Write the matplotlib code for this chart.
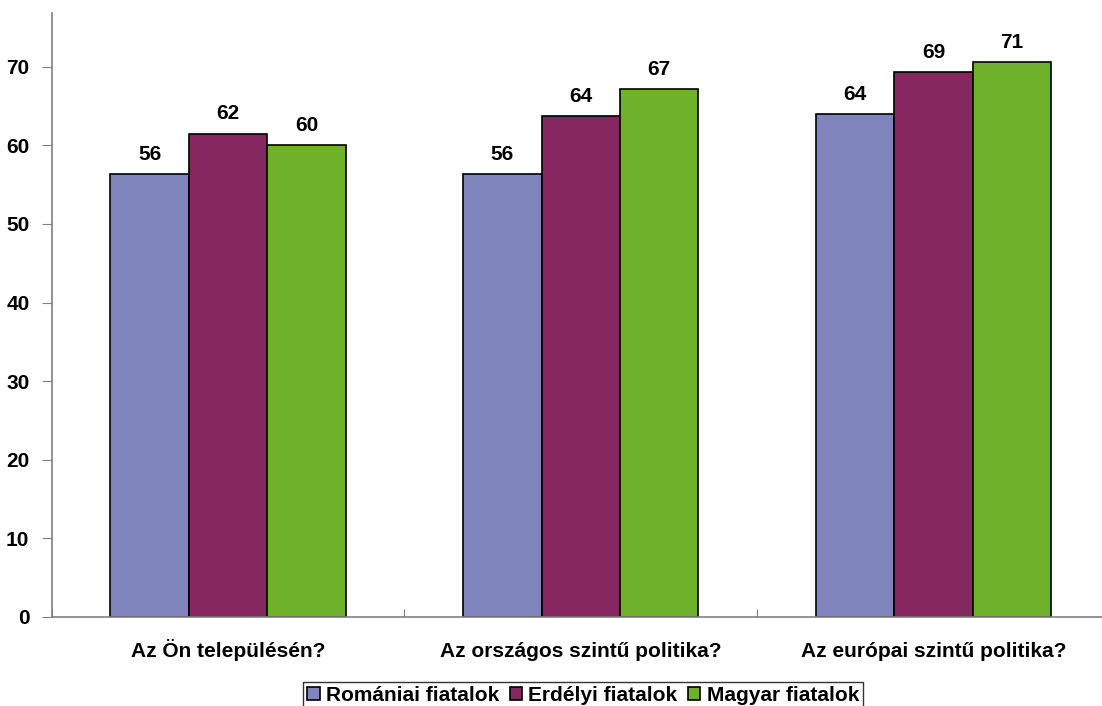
import matplotlib.pyplot as plt
import numpy as np

categories = ["Az Ön településén?", "Az országos szintű politika?", "Az európai szintű politika?"]
series_names = ["Romániai fiatalok", "Erdélyi fiatalok", "Magyar fiatalok"]
romaniai = [56.3, 56.3, 64.0]
erdelyi = [61.5, 63.7, 69.3]
magyar = [60.0, 67.2, 70.6]
yticks = [0, 10, 20, 30, 40, 50, 60, 70]

colors = ["#8084BC", "#862860", "#6FB12A"]
plt.rcParams['font.family'] = ['Liberation Sans', 'DejaVu Sans']
plt.rcParams['font.weight'] = 'bold'
FS = 15

fig = plt.figure(figsize=(11.02, 7.06), dpi=100)
W, H = 1102, 706
ax = fig.add_axes([51.6 / W, 89 / H, 1058.3 / W, (617 - 13.3) / H])

x = np.arange(len(categories))
w = 1 / 4.5
for i, (vals, name) in enumerate(zip([romaniai, erdelyi, magyar], series_names)):
    pos = x + (i - 1) * w
    ax.bar(pos, vals, width=w, color=colors[i], edgecolor="black", linewidth=1.2, label=name)
    for p, v in zip(pos, vals):
        ax.text(p, v + 1.8, f"{v:.0f}", ha="center", va="baseline", fontsize=FS, fontweight="bold")

ax.set_xlim(-0.5, 2.5)
ax.set_ylim(0, 76.8)
ax.set_yticks(yticks)
ax.set_yticklabels([str(t) for t in yticks], fontsize=FS, fontweight="bold")
ax.tick_params(axis="y", direction="out", length=7, color="#808080", pad=9)

# kategoria cimkek kozepen, tickek a csoportok hataran
ax.set_xticks([-0.5, 0.5, 1.5, 2.5])
ax.set_xticklabels([])
ax.tick_params(axis="x", direction="in", length=6, color="#808080")
for xi, c in zip(x, categories):
    ax.text(xi, -5.1, c, ha="center", va="baseline", fontsize=FS, fontweight="bold")

for s in ["top", "right"]:
    ax.spines[s].set_visible(False)
for s in ["left", "bottom"]:
    ax.spines[s].set_color("#808080")
    ax.spines[s].set_linewidth(1.2)

leg = fig.legend(loc="upper center", bbox_to_anchor=(583 / W, 1 - 682 / H), ncol=3,
                 frameon=True, fancybox=False, edgecolor="black", fontsize=FS,
                 handlelength=0.6, handleheight=0.6, handletextpad=0.3,
                 columnspacing=0.5, borderpad=0.2, borderaxespad=0)
leg.get_frame().set_linewidth(1.0)
for t in leg.get_texts():
    t.set_fontweight("bold")

fig.savefig("out.png", dpi=100)
